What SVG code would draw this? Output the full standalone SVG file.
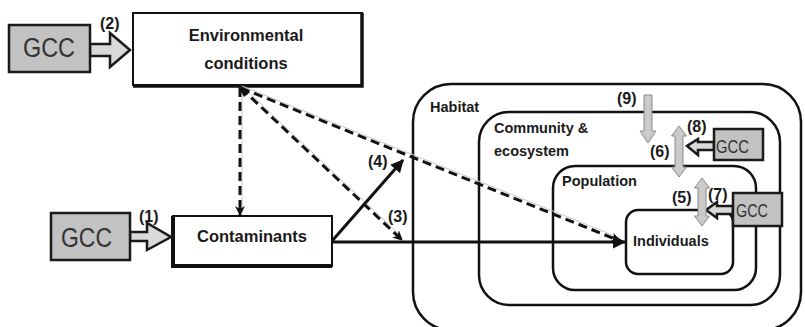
<svg xmlns="http://www.w3.org/2000/svg" width="805" height="327" viewBox="0 0 805 327">
<style>
.lbl{font-family:"Liberation Sans",Arial,sans-serif;font-weight:bold;font-size:16px;fill:#1a1a1a}
.nodeT{font-family:"Liberation Sans",Arial,sans-serif;font-weight:bold;font-size:16.5px;fill:#1a1a1a}
.lvl{font-family:"Liberation Sans",Arial,sans-serif;font-weight:bold;font-size:14.5px;fill:#1a1a1a}
.gcc{font-family:"Liberation Sans",Arial,sans-serif;fill:#333}
.lvlbox{fill:none;stroke:#111;stroke-width:2.5}
.gbox{fill:#c2c2c2;stroke:#1a1a1a;stroke-width:2.5}
.garrow{fill:#d9d9d9;stroke:#1a1a1a;stroke-width:2.5;stroke-linejoin:miter}
.dbl{fill:#cacaca;stroke:#8a8a8a;stroke-width:1}
.dash{fill:none;stroke:#111;stroke-width:3;stroke-dasharray:9 5}
.ghost{fill:none;stroke:#c8c8c8;stroke-width:1}
.solid{fill:none;stroke:#111;stroke-width:3}
</style>
<defs>
<marker id="ah" viewBox="0 0 12 12" refX="11" refY="6" markerWidth="13" markerHeight="13" markerUnits="userSpaceOnUse" orient="auto"><path d="M0,0 L12,6 L0,12 z" fill="#111"/></marker>
<marker id="ahs" viewBox="0 0 10 10" refX="9" refY="5" markerWidth="10" markerHeight="10" markerUnits="userSpaceOnUse" orient="auto"><path d="M0,0 L10,5 L0,10 L3,5 z" fill="#111"/></marker>
</defs>
<rect width="805" height="327" fill="#fff"/>

<g id="habitat">
<rect class="lvlbox" x="413" y="84" width="388" height="246" rx="38" ry="38"/>
<text class="lvl" x="430" y="112">Habitat</text>
</g>
<g id="community">
<rect class="lvlbox" x="479" y="112" width="301" height="193" rx="30" ry="30"/>
<text class="lvl" x="494" y="133">Community &amp;</text>
<text class="lvl" x="494" y="156">ecosystem</text>
</g>
<g id="population">
<rect class="lvlbox" x="553" y="166" width="203" height="124" rx="22" ry="22"/>
<text class="lvl" x="562" y="186">Population</text>
</g>
<g id="individuals">
<rect class="lvlbox" x="626" y="210" width="107" height="64" rx="12" ry="12" fill="#fff"/>
<text class="lvl" x="633" y="246">Individuals</text>
</g>

<g id="environmental-conditions">
<rect x="133" y="13" width="229" height="72" fill="#fff" stroke="#111" stroke-width="2"/>
<path d="M362,13 L362,86 L133,86" fill="none" stroke="#111" stroke-width="3.5"/>
<text class="nodeT" x="246" y="41" text-anchor="middle">Environmental</text>
<text class="nodeT" x="246" y="69" text-anchor="middle">conditions</text>
</g>

<g id="contaminants">
<rect x="173" y="216" width="159" height="50" fill="#fff" stroke="#111" stroke-width="2"/>
<path d="M173,216 L173,266 L332,266" fill="none" stroke="#111" stroke-width="4"/>
<text class="nodeT" x="252" y="242" text-anchor="middle">Contaminants</text>
</g>

<g id="connectors">
<line class="ghost" x1="242" y1="90" x2="242" y2="212"/>
<line class="dash" x1="240" y1="88" x2="240" y2="215" marker-end="url(#ahs)"/>
<line class="ghost" x1="243" y1="87" x2="403" y2="238"/>
<line class="dash" x1="241" y1="88" x2="402" y2="240" marker-end="url(#ahs)"/>
<line class="ghost" x1="242" y1="86" x2="620" y2="238"/>
<line class="dash" x1="241" y1="88" x2="620" y2="241" marker-end="url(#ahs)"/>
<polygon points="238,86 250,92 244,97" fill="#111"/>
<line class="solid" x1="332" y1="242" x2="625" y2="242" stroke-width="3.5" marker-end="url(#ah)"/>
<line class="solid" x1="332" y1="241" x2="403" y2="160" marker-end="url(#ah)"/>
</g>

<g id="gcc1">
<polygon class="garrow" points="130,232 147,232 147,223 171,237 147,250 147,241 130,241"/>
<rect class="gbox" x="51" y="213" width="79" height="47"/>
<text class="gcc" x="61" y="247" font-size="27" textLength="51" lengthAdjust="spacingAndGlyphs">GCC</text>
</g>
<g id="gcc2">
<polygon class="garrow" points="90,44 110,44 110,33 130,50 110,67 110,56 90,56" stroke-width="3"/>
<rect class="gbox" x="9" y="25" width="81" height="47" stroke-width="3.5"/>
<text class="gcc" x="23" y="57" font-size="27" textLength="52" lengthAdjust="spacingAndGlyphs">GCC</text>
</g>
<g id="gcc8">
<polygon class="garrow" points="714,142 698,142 698,139 687,146 698,155 698,150 714,150" stroke-width="2"/>
<rect class="gbox" x="714" y="129" width="49" height="31" stroke-width="2.5"/>
<text class="gcc" x="716" y="153" font-size="18" textLength="33" lengthAdjust="spacingAndGlyphs">GCC</text>
</g>
<g id="gcc7">
<polygon class="garrow" points="733,206 717,206 717,202 706,210 717,218 717,214 733,214" stroke-width="2"/>
<rect class="gbox" x="733" y="193" width="49" height="33" stroke-width="2"/>
<text class="gcc" x="736" y="217" font-size="18" textLength="32" lengthAdjust="spacingAndGlyphs">GCC</text>
</g>

<g id="arrow9">
<polygon class="dbl" points="644,95 652,95 652,131 656,131 648,143 640,131 644,131"/>
</g>
<g id="arrow6">
<polygon class="dbl" points="679,126 686.5,136 683,136 683,167 686.5,167 679,177 671.5,167 675,167 675,136 671.5,136"/>
</g>
<g id="arrow5">
<polygon class="dbl" points="702,178 709.5,188 706,188 706,216 709.5,216 702,226 694.5,216 698,216 698,188 694.5,188"/>
</g>

<g id="labels">
<text class="lbl" x="139" y="222">(1)</text>
<text class="lbl" x="100" y="29">(2)</text>
<text class="lbl" x="388" y="222">(3)</text>
<text class="lbl" x="368" y="167">(4)</text>
<text class="lbl" x="672" y="203">(5)</text>
<text class="lbl" x="650" y="157">(6)</text>
<text class="lbl" x="708" y="200">(7)</text>
<text class="lbl" x="687" y="132">(8)</text>
<text class="lbl" x="617" y="104">(9)</text>
</g>
</svg>
